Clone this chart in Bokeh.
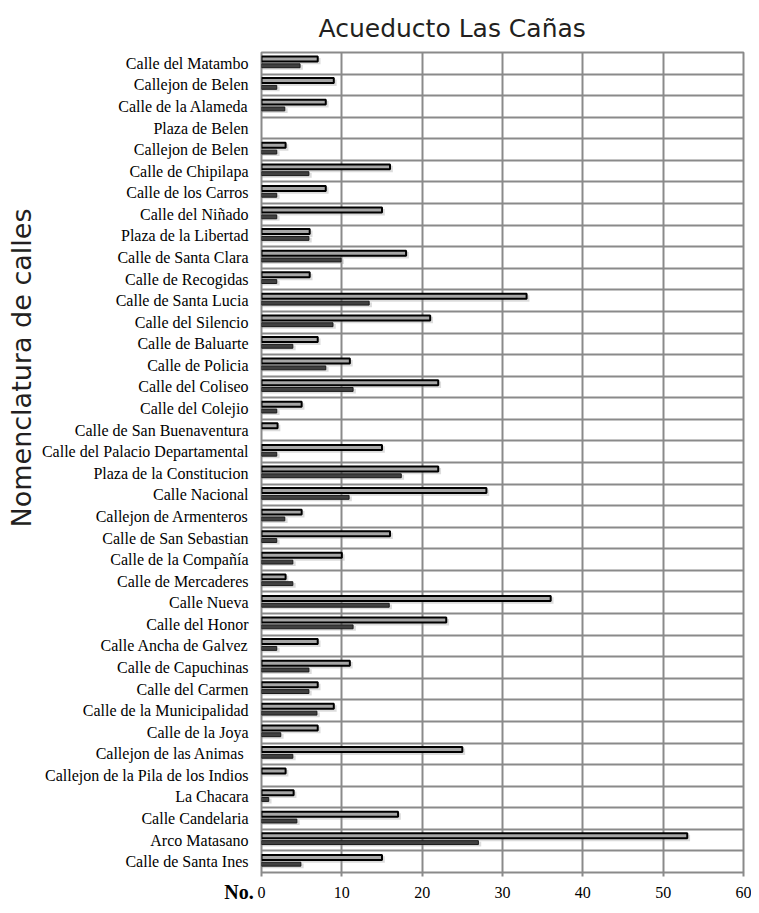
from bokeh.plotting import figure
from bokeh.models import Range1d, FixedTicker, ColumnDataSource, Title
from bokeh.transform import dodge
from bokeh.embed import file_html
from bokeh.resources import INLINE

streets = [
    "Calle del Matambo", "Callejon de Belen", "Calle de la Alameda", "Plaza de Belen",
    "Callejon de Belen", "Calle de Chipilapa", "Calle de los Carros", "Calle del Niñado",
    "Plaza de la Libertad", "Calle de Santa Clara", "Calle de Recogidas", "Calle de Santa Lucia",
    "Calle del Silencio", "Calle de Baluarte", "Calle de Policia", "Calle del Coliseo",
    "Calle del Colejio", "Calle de San Buenaventura", "Calle del Palacio Departamental",
    "Plaza de la Constitucion", "Calle Nacional", "Callejon de Armenteros",
    "Calle de San Sebastian", "Calle de la Compañía", "Calle de Mercaderes", "Calle Nueva",
    "Calle del Honor", "Calle Ancha de Galvez", "Calle de Capuchinas", "Calle del Carmen",
    "Calle de la Municipalidad", "Calle de la Joya", "Callejon de las Animas ",
    "Callejon de la Pila de los Indios", "La Chacara", "Calle Candelaria", "Arco Matasano",
    "Calle de Santa Ines",
]
series_a = [7, 9, 8, 0, 3, 16, 8, 15, 6, 18, 6, 33, 21, 7, 11, 22, 5, 2, 15, 22, 28, 5, 16,
            10, 3, 36, 23, 7, 11, 7, 9, 7, 25, 3, 4, 17, 53, 15]
series_b = [4.8, 1.9, 2.9, 0, 1.9, 5.9, 1.9, 1.9, 5.9, 9.9, 1.9, 13.4, 8.9, 3.9, 8, 11.4, 1.9,
            0, 1.9, 17.4, 10.9, 2.9, 1.9, 3.9, 3.9, 15.9, 11.4, 1.9, 5.9, 5.9, 6.9, 2.4, 3.9,
            0, 0.9, 4.4, 27, 4.9]
x_ticks = [0, 10, 20, 30, 40, 50, 60]
x_title = "No."

n = len(streets)
rows = list(range(n))

p = figure(width=751, height=905, output_backend="svg", toolbar_location=None,
           x_range=Range1d(0, 60), y_range=Range1d(n - 0.5, -0.5),
           min_border_left=261, min_border_right=8, min_border_top=52, min_border_bottom=29)
p.background_fill_color = "white"
p.border_fill_color = "white"
p.outline_line_color = "#8a8a8a"
p.outline_line_width = 2

GRID = "#8a8a8a"
p.xgrid.grid_line_color = GRID
p.xgrid.grid_line_width = 2
p.ygrid.grid_line_color = GRID
p.ygrid.grid_line_width = 2
p.ygrid.ticker = FixedTicker(ticks=[r - 0.5 for r in rows] + [n - 0.5])

xa = p.xaxis[0]
xa.ticker = FixedTicker(ticks=x_ticks)
xa.axis_line_color = None
xa.major_tick_line_color = GRID
xa.major_tick_line_width = 2
xa.major_tick_out = 4
xa.major_tick_in = 0
xa.minor_tick_line_color = None
xa.major_label_standoff = 10
xa.major_label_text_font = "Liberation Serif"
xa.major_label_text_font_size = "16px"
xa.major_label_text_color = "black"
# the axis title sits left of the "0" tick, on the tick-label row;
# non-breaking spaces push the centred text to the left of the frame edge
xa.axis_label = x_title + "\u00a0" * 9
xa.axis_label_align = "start"
xa.axis_label_standoff_mode = "axis"
xa.axis_label_standoff = 8
xa.axis_label_text_font = "Liberation Serif"
xa.axis_label_text_font_size = "20px"
xa.axis_label_text_font_style = "bold"
xa.axis_label_text_color = "black"

ya = p.yaxis[0]
ya.ticker = FixedTicker(ticks=rows)
ya.major_label_overrides = {r: s for r, s in zip(rows, streets)}
ya.axis_line_color = None
ya.major_tick_line_color = None
ya.minor_tick_line_color = None
ya.major_tick_out = 0
ya.major_tick_in = 0
ya.major_label_standoff = 13
ya.major_label_text_font = "Liberation Serif"
ya.major_label_text_font_size = "16px"
ya.major_label_text_color = "black"

src = ColumnDataSource(dict(
    y=rows, a=series_a, b=series_b,
    a_sh=[v + 0.35 if v > 0 else 0 for v in series_a],
    b_sh=[v + 0.35 if v > 0 else 0 for v in series_b],
    la=[1 if v > 0 else 0 for v in series_a],
    lb=[1 if v > 0 else 0 for v in series_b],
))

p.hbar(y=dodge("y", -0.10, range=p.y_range), left=0, right="a_sh", height=0.30, source=src,
       fill_color="#9a9a9a", fill_alpha=0.35, line_color=None)
p.hbar(y=dodge("y", 0.19, range=p.y_range), left=0, right="b_sh", height=0.22, source=src,
       fill_color="#9a9a9a", fill_alpha=0.35, line_color=None)
p.hbar(y=dodge("y", -0.20, range=p.y_range), left=0, right="a", height=0.23, source=src,
       fill_color="#a6a6a6", line_color="black", line_width=2, line_alpha="la")
p.hbar(y=dodge("y", 0.115, range=p.y_range), left=0, right="b", height=0.18, source=src,
       fill_color="#404040", line_color="#1a1a1a", line_width=1, line_alpha="lb")

p.title = Title(text="Acueducto Las Cañas", align="left", offset=57,
                text_font="DejaVu Sans", text_font_size="25px", text_font_style="normal",
                text_color="#231f20", standoff=20)
p.add_layout(Title(text="Nomenclatura de calles", align="left", offset=345,
                   text_font="DejaVu Sans", text_font_size="27px", text_font_style="normal",
                   text_color="#231f20", standoff=4), "left")

open("out.html", "w").write(file_html(p, INLINE))
